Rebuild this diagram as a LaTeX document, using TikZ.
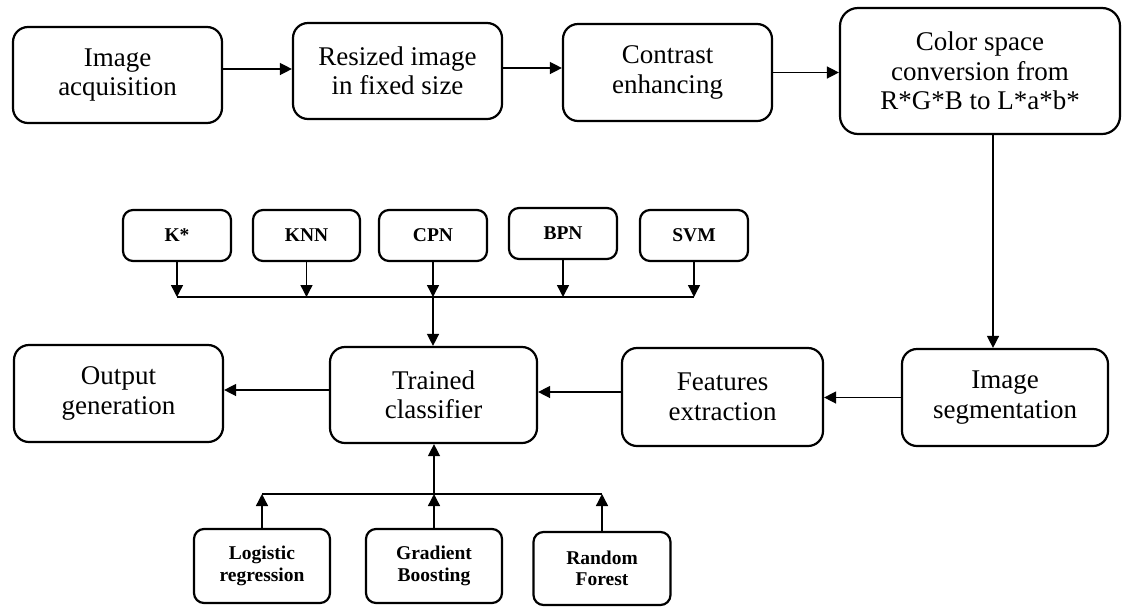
\documentclass[tikz,border=0pt]{standalone}
\usepackage{fontspec}
\setmainfont{Liberation Serif}
\usetikzlibrary{arrows.meta}
\begin{document}
\begin{tikzpicture}[x=1pt,y=-1pt,
 bigbox/.style={draw, line width=2.2pt, rounded corners=15pt, align=center, inner sep=0pt, font=\fontsize{27}{29.5}\selectfont},
 smallbox/.style={draw, line width=2.2pt, rounded corners=10pt, align=center, inner sep=0pt, font=\bfseries\fontsize{19.5}{21.5}\selectfont},
 conn/.style={line width=1.4pt},
 arr/.style={conn, -{Triangle[length=12pt,width=12pt]}}]
\useasboundingbox[fill=white] (0,0) rectangle (1123,606);

% top row
\node[bigbox, minimum width=209pt, minimum height=96pt] (acq) at (117.5,75) {Image\\acquisition};
\node[bigbox, minimum width=209pt, minimum height=96pt] (res) at (397.5,71) {Resized image\\in fixed size};
\node[bigbox, minimum width=209pt, minimum height=97pt] (con) at (667.5,72.5) {Contrast\\enhancing};
\node[bigbox, minimum width=280pt, minimum height=126pt, rounded corners=18pt] (col) at (980,71) {Color space\\conversion from\\R*G*B to L*a*b*};

% middle row
\node[bigbox, minimum width=209pt, minimum height=97pt] (out) at (118.5,393.5) {Output\\generation};
\node[bigbox, minimum width=207pt, minimum height=96pt] (tra) at (433.5,395) {Trained\\classifier};
\node[bigbox, minimum width=201pt, minimum height=98pt] (fea) at (722.5,397) {Features\\extraction};
\node[bigbox, minimum width=206pt, minimum height=97pt] (seg) at (1005,397.5) {Image\\segmentation};

% classifier boxes (top)
\node[smallbox, minimum width=108pt, minimum height=51pt] (k) at (177,235.5) {K*};
\node[smallbox, minimum width=107pt, minimum height=51pt] (knn) at (306.5,235.5) {KNN};
\node[smallbox, minimum width=108pt, minimum height=51pt] (cpn) at (433,235.5) {CPN};
\node[smallbox, minimum width=108pt, minimum height=51pt] (bpn) at (563,233.5) {BPN};
\node[smallbox, minimum width=108pt, minimum height=51pt] (svm) at (694,235.5) {SVM};

% classifier boxes (bottom)
\node[smallbox, minimum width=136pt, minimum height=74pt] (lr) at (262,566) {Logistic\\regression};
\node[smallbox, minimum width=136pt, minimum height=74pt] (gb) at (434,566) {Gradient\\Boosting};
\node[smallbox, minimum width=137pt, minimum height=73pt] (rf) at (602,568.5) {Random\\Forest};

\coordinate (bus) at (433,297);
\coordinate (bus2) at (434,494);
\coordinate (dx) at (993,0);

% top row connectors
\draw[arr] ([yshift=6pt]acq.east) -- ([yshift=6pt]acq.east -| res.west);
\draw[arr] ([yshift=3pt]res.east) -- ([yshift=3pt]res.east -| con.west);
\draw[arr] (con.east) -- (con.east -| col.west);
\draw[arr] (col.south -| dx) -- (seg.north -| dx);

% middle row connectors
\draw[arr] (seg.west) -- (seg.west -| fea.east);
\draw[arr] ([yshift=5pt]fea.west) -- ([yshift=5pt]fea.west -| tra.east);
\draw[arr] ([yshift=5pt]tra.west) -- ([yshift=5pt]tra.west -| out.east);

% top classifier bus
\draw[conn] (k.south |- bus) -- (svm.south |- bus);
\draw[arr] (k.south) -- (k.south |- bus);
\draw[arr] (knn.south) -- (knn.south |- bus);
\draw[arr] (cpn.south) -- (cpn.south |- bus);
\draw[arr] (bpn.south) -- (bpn.south |- bus);
\draw[arr] (svm.south) -- (svm.south |- bus);
\draw[arr] (cpn.south |- bus) -- (cpn.south |- tra.north);

% bottom classifier bus
\draw[conn] (lr.north |- bus2) -- (rf.north |- bus2);
\draw[arr] (lr.north) -- (lr.north |- bus2);
\draw[arr] (gb.north) -- (gb.north |- bus2);
\draw[arr] (rf.north) -- (rf.north |- bus2);
\draw[arr] (gb.north |- bus2) -- (gb.north |- tra.south);
\end{tikzpicture}
\end{document}
